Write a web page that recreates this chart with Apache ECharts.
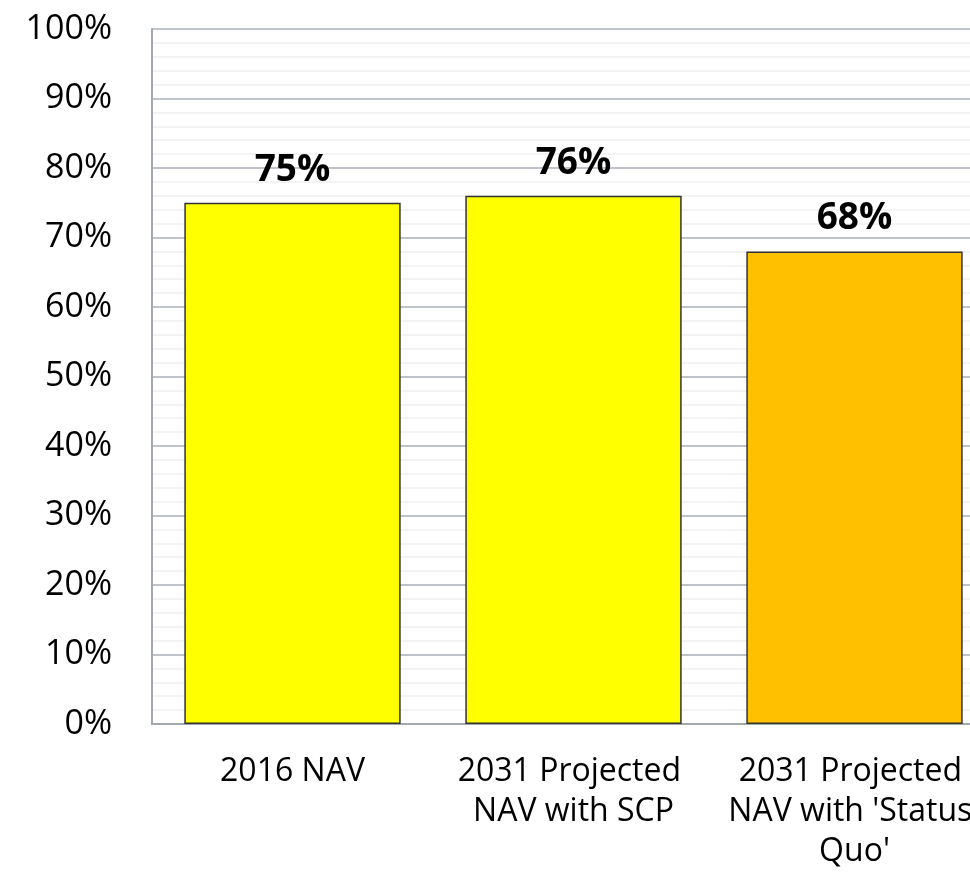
<!DOCTYPE html>
<html>
<head>
<meta charset="utf-8">
<script src="https://cdn.jsdelivr.net/npm/echarts@6/dist/echarts.min.js"></script>
<style>
  html, body { margin: 0; padding: 0; background: #ffffff; }
  #chart { width: 970px; height: 872px; }
</style>
</head>
<body>
<div id="chart"></div>
<script>
// Net asset value share, per scenario (percent)
const categories = ['2016 NAV', '2031 Projected NAV with SCP', "2031 Projected NAV with 'Status Quo'"];
const navValues = [75, 76, 68];
const barColors = ['#ffff00', '#ffff00', '#ffc000'];
const yTickValues = [0, 10, 20, 30, 40, 50, 60, 70, 80, 90, 100];

const FONT = '"Open Sans", "Noto Sans", sans-serif';

const chart = echarts.init(document.getElementById('chart'), null, { renderer: 'canvas' });

chart.setOption({
  animation: false,
  backgroundColor: '#ffffff',
  // the plot runs a little past the right edge of the canvas
  grid: { left: 152, top: 29, width: 843, height: 695, containLabel: false, outerBoundsMode: 'none' },
  xAxis: {
    type: 'category',
    data: categories,
    axisLine: { show: true, lineStyle: { color: '#a3a8ae', width: 2 } },
    axisTick: { show: false },
    axisLabel: {
      interval: 0,
      margin: 28,
      color: '#000000',
      fontFamily: FONT,
      fontSize: 32,
      lineHeight: 40,
      width: 262,
      overflow: 'break',
      align: 'center'
    },
    splitLine: { show: false }
  },
  yAxis: {
    type: 'value',
    min: yTickValues[0],
    max: yTickValues[yTickValues.length - 1],
    interval: yTickValues[1] - yTickValues[0],
    axisLine: { show: true, lineStyle: { color: '#a3a8ae', width: 2 } },
    axisTick: { show: false },
    minorTick: { show: false, splitNumber: 5 },
    axisLabel: {
      margin: 40,
      color: '#000000',
      fontFamily: FONT,
      fontSize: 34,
      formatter: v => v + '%'
    },
    splitLine: { show: true, lineStyle: { color: '#a9b0b8', width: 1.5 } },
    minorSplitLine: { show: true, lineStyle: { color: '#f0f0f0', width: 1.5 } }
  },
  series: [{
    type: 'bar',
    data: navValues.map((v, i) => ({ value: v, itemStyle: { color: barColors[i] } })),
    barWidth: '77%',
    itemStyle: { borderColor: '#333333', borderWidth: 1.5 },
    label: {
      show: true,
      position: 'top',
      distance: 14,
      color: '#000000',
      fontFamily: FONT,
      fontWeight: 'bold',
      fontSize: 37,
      lineHeight: 37,
      formatter: p => Math.round(p.value) + '%'
    }
  }]
});
</script>
</body>
</html>
